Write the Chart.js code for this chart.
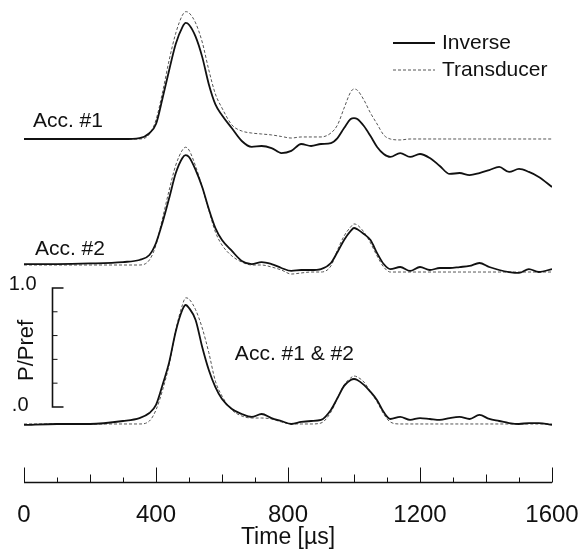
<!DOCTYPE html>
<html>
<head>
<meta charset="utf-8">
<script src="https://cdn.jsdelivr.net/npm/chart.js@4.4.0/dist/chart.umd.min.js"></script>
<style>
  html, body { margin: 0; padding: 0; background: #fff; }
  #wrap { width: 587px; height: 552px; }
</style>
</head>
<body>
<div id="wrap"><canvas id="pressure-chart" width="587" height="552"></canvas></div>
<script>
// time axis (µs)
var time = [0, 100, 200, 300, 350, 380, 400, 420, 440, 460, 480, 490, 500, 520, 540, 560, 580, 600, 630, 660,
    690, 720, 750, 780, 810, 840, 870, 900, 930, 950, 970, 990, 1000, 1010, 1030, 1050, 1070, 1090, 1110, 1140,
    1170, 1200, 1230, 1260, 1290, 1320, 1350, 1380, 1410, 1440, 1470, 1500, 1530, 1560, 1600];
var xTicks = [0, 400, 800, 1200, 1600];

// Acc. #1 (P/Pref)
var inverse1 = [0, 0, 0, 0, 0.008, 0.05, 0.126, 0.345, 0.58, 0.8, 0.94, 0.975, 0.96, 0.86, 0.69, 0.46, 0.29, 0.2, 0.09, -0.017,
    -0.067, -0.059, -0.076, -0.118, -0.1, -0.042, -0.059, -0.042, -0.034, 0.008, 0.092, 0.168, 0.176, 0.168, 0.109, 0.025, -0.067, -0.126, -0.151, -0.118,
    -0.151, -0.126, -0.16, -0.227, -0.294, -0.286, -0.303, -0.286, -0.261, -0.235, -0.277, -0.252, -0.277, -0.319, -0.403];
var transducer1 = [0, 0, 0, 0, 0, 0.04, 0.16, 0.395, 0.664, 0.89, 1.04, 1.07, 1.06, 0.975, 0.815, 0.58, 0.378, 0.26, 0.118, 0.067,
    0.05, 0.042, 0.034, 0.021, 0.008, 0.017, 0.017, 0.017, 0.05, 0.118, 0.26, 0.395, 0.42, 0.41, 0.328, 0.218, 0.126, 0.034, 0, -0.008,
    0, 0, 0, 0, 0, 0, 0, 0, 0, 0, 0, 0, 0, 0, 0];

// Acc. #2
var inverse2 = [0.008, 0.008, 0.013, 0.025, 0.042, 0.084, 0.185, 0.36, 0.563, 0.773, 0.9, 0.924, 0.908, 0.8, 0.655, 0.47, 0.31, 0.21, 0.118, 0.034,
    0.008, 0.025, 0.008, -0.025, -0.05, -0.042, -0.042, -0.034, 0.017, 0.109, 0.21, 0.286, 0.311, 0.3, 0.26, 0.21, 0.1, 0.008, -0.034, -0.017,
    -0.05, -0.017, -0.042, -0.025, -0.025, -0.017, -0.008, 0.017, -0.017, -0.042, -0.059, -0.067, -0.034, -0.059, -0.034];
var transducer2 = [0, 0, 0, 0, 0, 0.042, 0.168, 0.395, 0.63, 0.84, 0.966, 0.99, 0.966, 0.83, 0.655, 0.462, 0.277, 0.168, 0.076, 0.025,
    0, 0, -0.017, -0.042, -0.076, -0.067, -0.059, -0.059, -0.008, 0.126, 0.244, 0.32, 0.345, 0.336, 0.277, 0.185, 0.076, -0.017, -0.059, -0.059,
    -0.059, -0.059, -0.059, -0.059, -0.059, -0.059, -0.059, -0.059, -0.059, -0.059, -0.059, -0.059, -0.059, -0.059, -0.059];

// Acc. #1 & #2
var inverse12 = [-0.008, 0, 0, 0.025, 0.05, 0.092, 0.16, 0.33, 0.52, 0.78, 0.96, 1.0, 0.975, 0.874, 0.647, 0.454, 0.31, 0.21, 0.126, 0.084,
    0.059, 0.084, 0.05, 0.025, 0, 0.017, 0.025, 0.034, 0.118, 0.218, 0.32, 0.37, 0.378, 0.37, 0.328, 0.27, 0.2, 0.1, 0.042, 0.059,
    0.034, 0.05, 0.042, 0.034, 0.05, 0.059, 0.042, 0.076, 0.042, 0.025, 0.008, 0, 0.008, 0.008, -0.008];
var transducer12 = [0, 0, 0, 0, 0, 0.025, 0.118, 0.286, 0.5, 0.79, 1.0, 1.06, 1.05, 0.96, 0.807, 0.6, 0.36, 0.235, 0.118, 0.067,
    0.05, 0.05, 0.042, 0.017, 0, 0, 0, 0.008, 0.1, 0.218, 0.328, 0.387, 0.403, 0.395, 0.353, 0.27, 0.185, 0.084, 0.017, 0,
    0, 0, 0, 0, 0, 0, 0, 0, 0, 0, 0, 0, 0, 0, 0];

// vertical offsets of the stacked traces
var offsets = [2.395, 1.336, 0];
var traceNames = ["Acc. #1", "Acc. #2", "Acc. #1 & #2"];

var FONT = "'Liberation Sans', Arial, Helvetica, sans-serif";

function toPoints(values, offset) {
    return values.map(function (v, i) {
        return { x: time[i], y: v + offset };
    });
}

function inverseSet(values, offset, show) {
    return {
        label: "Inverse",
        data: toPoints(values, offset),
        borderColor: "#111111",
        borderWidth: 1.8,
        pointRadius: 0,
        cubicInterpolationMode: "monotone",
        showInLegend: show
    };
}

function transducerSet(values, offset, show) {
    return {
        label: "Transducer",
        data: toPoints(values, offset),
        borderColor: "#555555",
        borderWidth: 1,
        borderDash: [3, 2],
        pointRadius: 0,
        cubicInterpolationMode: "monotone",
        showInLegend: show
    };
}

// Annotations: trace names, scale bar, legend, axis line
var decorations = {
    id: "decorations",
    afterDraw: function (chart) {
        var c = chart.ctx;
        var xs = chart.scales.x, ys = chart.scales.y;
        var area = chart.chartArea;
        c.save();
        c.fillStyle = "#111";
        c.strokeStyle = "#111";

        // trace names
        var namePos = [[27, 2.496], [33, 1.42], [639, 0.538]];
        c.font = "21px " + FONT;
        c.textAlign = "left";
        c.textBaseline = "alphabetic";
        traceNames.forEach(function (n, i) {
            c.fillText(n, xs.getPixelForValue(namePos[i][0]), ys.getPixelForValue(namePos[i][1]));
        });

        // P/Pref scale bar
        var barT = 85, bar0 = 0.143;
        var bx = Math.round(xs.getPixelForValue(barT)) + 0.5;
        var by0 = ys.getPixelForValue(bar0), by1 = ys.getPixelForValue(bar0 + 1);
        c.lineWidth = 1.6;
        c.beginPath();
        c.moveTo(bx + 11, by1); c.lineTo(bx, by1); c.lineTo(bx, by0); c.lineTo(bx + 11, by0);
        c.stroke();
        c.lineWidth = 1;
        for (var k = 1; k < 5; k++) {
            var yy = ys.getPixelForValue(bar0 + k * 0.2);
            c.beginPath(); c.moveTo(bx, yy); c.lineTo(bx + 5, yy); c.stroke();
        }
        c.font = "20px " + FONT;
        c.textAlign = "right";
        c.textBaseline = "middle";
        c.fillText("1.0", bx - 16, by1 - 3);
        c.fillText(".0", bx - 24, by0 - 1);
        c.save();
        c.translate(bx - 26, (by0 + by1) / 2 + 3);
        c.rotate(-Math.PI / 2);
        c.textAlign = "center";
        c.font = "22px " + FONT;
        c.fillText("P/Pref", 0, 0);
        c.restore();

        // time axis line with ticks pointing up
        var ay = Math.round(area.bottom) - 0.5;
        c.lineWidth = 1.6;
        c.beginPath(); c.moveTo(area.left, ay); c.lineTo(area.right, ay); c.stroke();
        c.lineWidth = 1;
        for (var t = 0; t <= 1600; t += 100) {
            var px = Math.round(xs.getPixelForValue(t)) + 0.5;
            var len = t % 400 === 0 ? 15 : (t % 200 === 0 ? 8 : 5);
            c.beginPath(); c.moveTo(px, ay); c.lineTo(px, ay - len); c.stroke();
        }

        // legend
        var sets = chart.data.datasets.filter(function (d) { return d.showInLegend; });
        c.font = "21px " + FONT;
        c.textAlign = "left";
        sets.forEach(function (d, i) {
            var ly = 43 + i * 27;
            c.strokeStyle = d.borderColor;
            c.lineWidth = d.borderWidth;
            c.setLineDash(d.borderDash || []);
            c.beginPath(); c.moveTo(393, ly); c.lineTo(435, ly); c.stroke();
            c.setLineDash([]);
            c.fillText(d.label, 442, ly);
        });
        c.restore();
    }
};

var ctx = document.getElementById("pressure-chart").getContext("2d");
var myChart = new Chart(ctx, {
    type: "line",
    data: {
        datasets: [
            inverseSet(inverse1, offsets[0], true),
            transducerSet(transducer1, offsets[0], true),
            inverseSet(inverse2, offsets[1], false),
            transducerSet(transducer2, offsets[1], false),
            inverseSet(inverse12, offsets[2], false),
            transducerSet(transducer12, offsets[2], false)
        ]
    },
    options: {
        responsive: false,
        animation: false,
        layout: { padding: { left: 24, right: 35, top: 0, bottom: 0 } },
        plugins: { legend: { display: false }, tooltip: { enabled: false } },
        scales: {
            x: {
                type: "linear",
                min: 0,
                max: 1600,
                afterFit: function (s) {
                    s.height = 69;
                    s.paddingLeft = 0;
                    s.paddingRight = 0;
                },
                afterBuildTicks: function (s) { s.ticks = xTicks.map(function (v) { return { value: v }; }); },
                grid: { display: false, drawTicks: false },
                border: { display: false },
                ticks: {
                    color: "#111",
                    padding: 18,
                    maxRotation: 0,
                    font: { size: 24, family: FONT },
                    callback: function (v) { return String(v); }
                },
                title: {
                    display: true,
                    text: "Time [µs]",
                    color: "#111",
                    padding: { top: 0, bottom: 1 },
                    font: { size: 23, family: FONT }
                }
            },
            y: {
                display: false,
                min: -0.496,
                max: 3.563
            }
        }
    },
    plugins: [decorations]
});
</script>
</body>
</html>
